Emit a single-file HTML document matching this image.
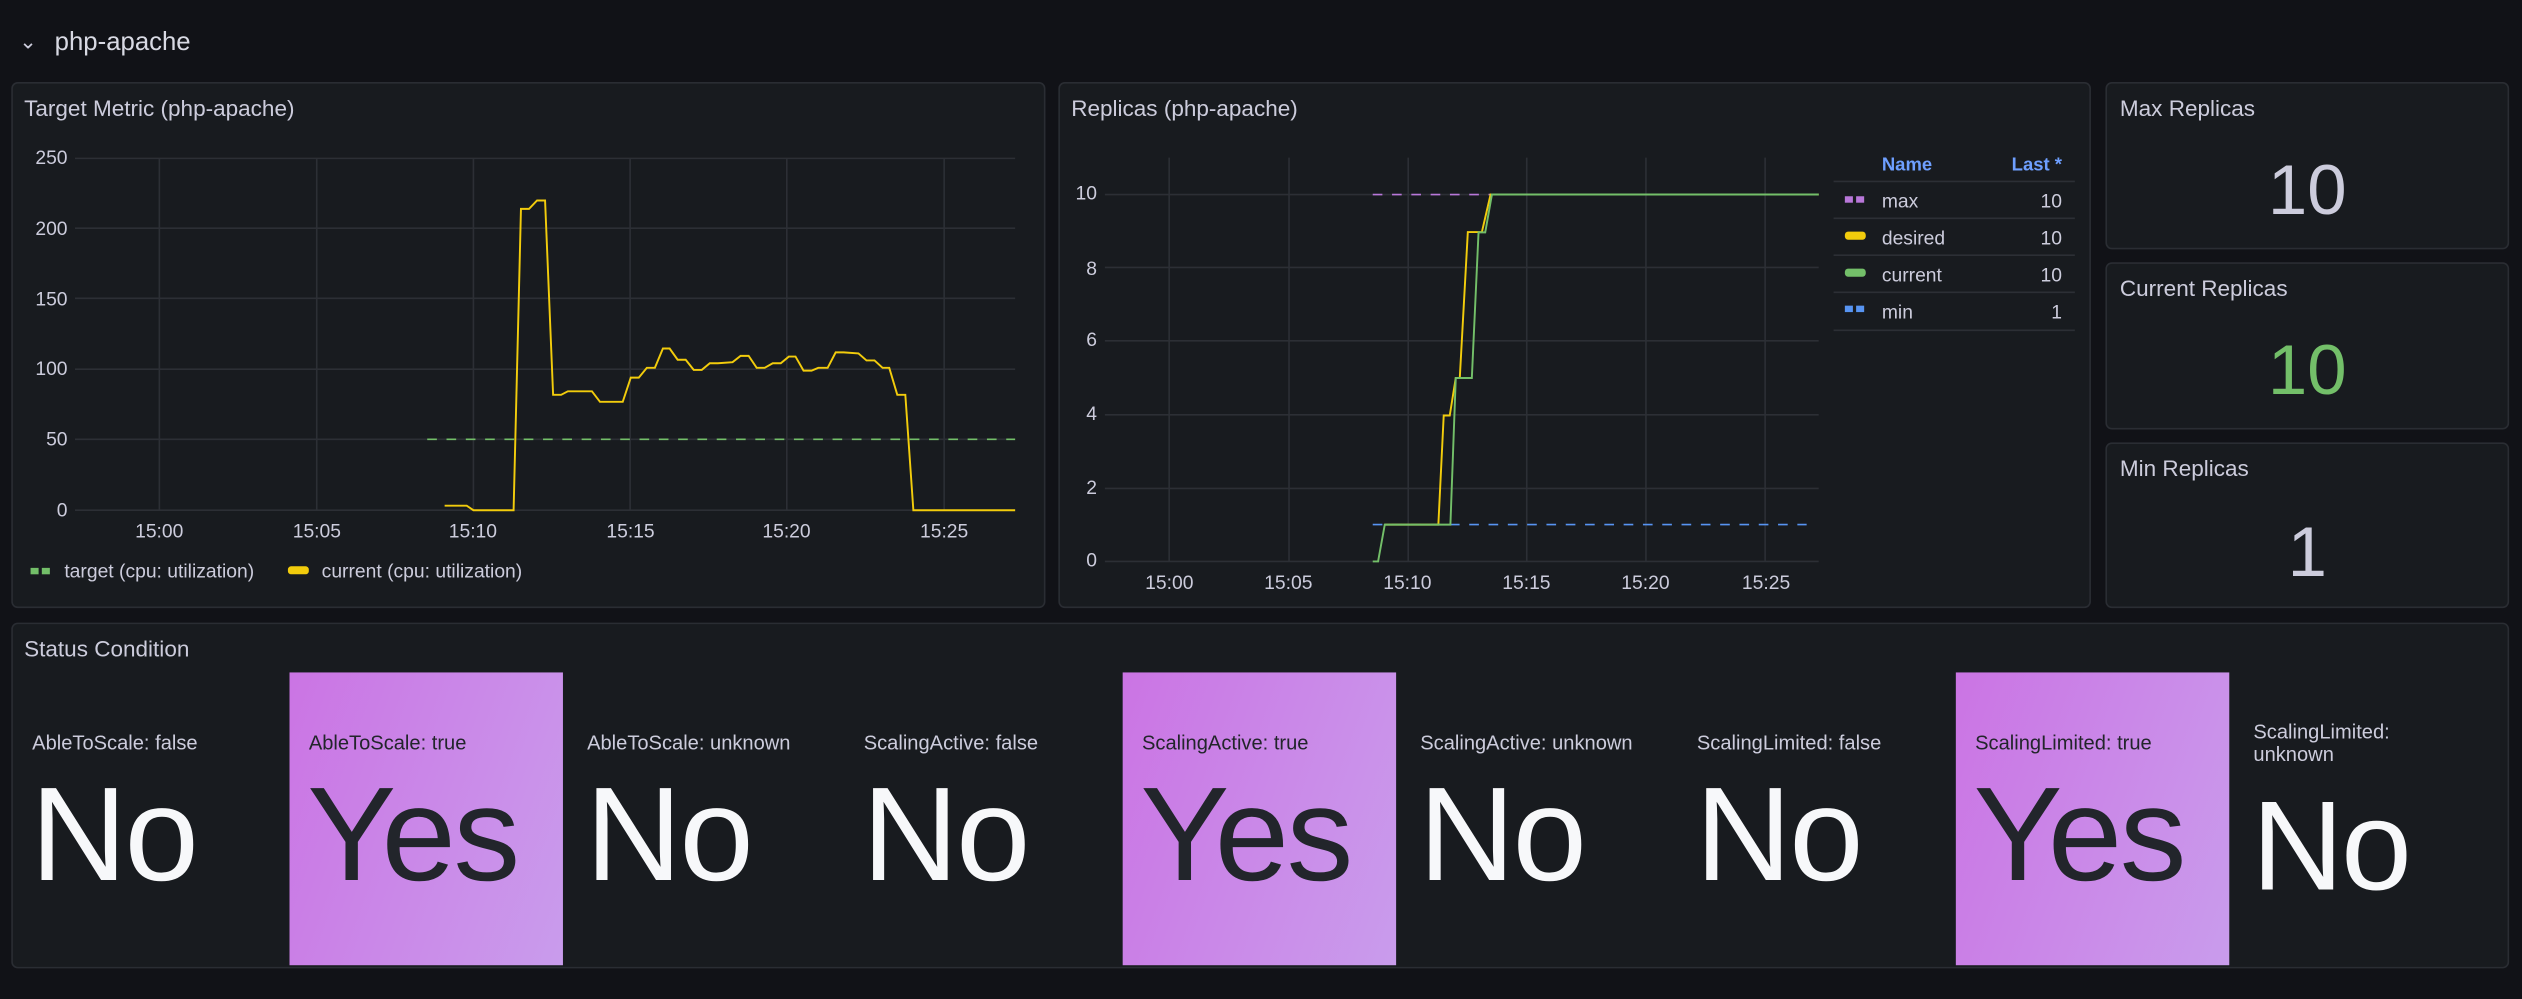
<!DOCTYPE html>
<html><head><meta charset="utf-8"><style>
html,body{margin:0;padding:0;background:#111217;overflow:hidden;width:2522px;height:999px}
#root{position:absolute;left:0;top:0;width:1568px;height:621px;transform:scale(1.60842,1.6087);transform-origin:0 0;font-family:"Liberation Sans",sans-serif;color:#ccccdc}
.a{position:absolute;white-space:nowrap}
.p{position:absolute;background:#181b1f;border:1px solid #2a2d33;border-radius:4px;box-sizing:border-box}
.t{position:absolute;font-size:14px;color:#ccccdc}
.big{position:absolute;font-size:44px;width:100%;text-align:center}
.cell{position:absolute;top:418px;width:170px;height:182px}
.lab{position:absolute;left:12px;top:37px;font-size:12.5px;color:#ccccdc}
.val{position:absolute;left:11px;top:53px;font-size:83px;color:#f7f8fa;letter-spacing:-1.5px}
.yes{background:linear-gradient(110deg,#cb74e4,#c99cec)}
.yes .lab{color:#22252b}.yes .val{color:#22252b}
</style></head><body><div id="root">
<div class="a" style="left:12px;top:18px;font-size:13px;color:#ccccdc">⌄</div>
<div class="a" style="left:34px;top:18px;font-size:16px;color:#d8d9e3">php-apache</div>

<div class="p" style="left:7px;top:51px;width:643px;height:327px"></div>
<div class="t" style="left:15px;top:59px">Target Metric (php-apache)</div>
<svg class="a" style="left:0;top:0" width="1568" height="621">
<g font-family="Liberation Sans" font-size="12" fill="#ccccdc">
<text x="42" y="102" text-anchor="end">250</text><text x="42" y="146" text-anchor="end">200</text><text x="42" y="190" text-anchor="end">150</text><text x="42" y="233" text-anchor="end">100</text><text x="42" y="277" text-anchor="end">50</text><text x="42" y="321" text-anchor="end">0</text>
<text x="99" y="334" text-anchor="middle">15:00</text><text x="197" y="334" text-anchor="middle">15:05</text><text x="294" y="334" text-anchor="middle">15:10</text><text x="392" y="334" text-anchor="middle">15:15</text><text x="489" y="334" text-anchor="middle">15:20</text><text x="587" y="334" text-anchor="middle">15:25</text>
<text x="40" y="359">target (cpu: utilization)</text><text x="200" y="359">current (cpu: utilization)</text>
</g>
<rect x="19" y="353" width="5" height="4" fill="#73bf69"/><rect x="26" y="353" width="5" height="4" fill="#73bf69"/>
<rect x="179" y="352" width="13" height="5" rx="2" fill="#f2cc0c"/>
<g transform="translate(0,43.5) scale(0.41632,0.21806)" fill="none">
<path vector-effect="non-scaling-stroke" stroke="#2c2f35" stroke-width="1" d="M112 252H1516M112 451H1516M112 651H1516M112 853H1516M112 1053H1516M112 1255H1516M238 252V1255M473 252V1255M707 252V1255M941 252V1255M1175 252V1255M1410 252V1255"/>
<path vector-effect="non-scaling-stroke" stroke="#73bf69" stroke-width="1" stroke-dasharray="6 6" d="M638 1053H1516"/>
<path vector-effect="non-scaling-stroke" stroke="#f2cc0c" stroke-width="1.2" d="M664 1242L697 1242L707 1255L767 1255L778 396L790 396L802 372L814 372L826 926L838 926L848 916L884 916L896 946L930 946L942 877L954 877L966 849L978 849L990 794L1000 794L1012 826L1024 826L1036 855L1048 855L1060 836L1072 836L1094 833L1106 815L1118 815L1130 849L1142 849L1154 836L1166 836L1178 817L1188 817L1200 857L1212 857L1222 849L1236 849L1248 805L1260 805L1282 808L1294 828L1306 828L1318 849L1328 849L1340 926L1352 926L1364 1255L1516 1255"/>
</g>
</svg>

<div class="p" style="left:658px;top:51px;width:642px;height:327px"></div>
<div class="t" style="left:666px;top:59px">Replicas (php-apache)</div>
<svg class="a" style="left:0;top:0" width="1568" height="621">
<g font-family="Liberation Sans" font-size="12" fill="#ccccdc">
<text x="682" y="124" text-anchor="end">10</text><text x="682" y="171" text-anchor="end">8</text><text x="682" y="215" text-anchor="end">6</text><text x="682" y="261" text-anchor="end">4</text><text x="682" y="307" text-anchor="end">2</text><text x="682" y="352" text-anchor="end">0</text>
<text x="727" y="366" text-anchor="middle">15:00</text><text x="801" y="366" text-anchor="middle">15:05</text><text x="875" y="366" text-anchor="middle">15:10</text><text x="949" y="366" text-anchor="middle">15:15</text><text x="1023" y="366" text-anchor="middle">15:20</text><text x="1098" y="366" text-anchor="middle">15:25</text>
<text x="1170" y="106" fill="#6e9fff" font-weight="bold" font-size="11.5">Name</text><text x="1282" y="106" fill="#6e9fff" text-anchor="end" font-weight="bold" font-size="11.5">Last *</text>
<text x="1170" y="129">max</text><text x="1282" y="129" text-anchor="end">10</text>
<text x="1170" y="152">desired</text><text x="1282" y="152" text-anchor="end">10</text>
<text x="1170" y="175">current</text><text x="1282" y="175" text-anchor="end">10</text>
<text x="1170" y="198">min</text><text x="1282" y="198" text-anchor="end">1</text>
</g>
<path stroke="#2c2f35" d="M1140 112.8H1290M1140 135.7H1290M1140 158.6H1290M1140 181.7H1290M1140 205.3H1290"/>
<rect x="1147" y="122" width="5" height="4" fill="#b877d9"/><rect x="1154" y="122" width="5" height="4" fill="#b877d9"/>
<rect x="1147" y="144" width="13" height="5" rx="2" fill="#f2cc0c"/>
<rect x="1147" y="167" width="13" height="5" rx="2" fill="#73bf69"/>
<rect x="1147" y="190" width="5" height="4" fill="#5794f2"/><rect x="1154" y="190" width="5" height="4" fill="#5794f2"/>
<g transform="translate(652.8,43.5) scale(0.41632,0.21806)" fill="none">
<path vector-effect="non-scaling-stroke" stroke="#2c2f35" stroke-width="1" d="M82 355H1148M82 563H1148M82 772H1148M82 983H1148M82 1193H1148M82 1401H1148M178 250V1401M357 250V1401M535 250V1401M712 250V1401M890 250V1401M1068 250V1401"/>
<path vector-effect="non-scaling-stroke" stroke="#b877d9" stroke-dasharray="6 6" d="M482 355H660"/>
<path vector-effect="non-scaling-stroke" stroke="#5794f2" stroke-dasharray="6 6" d="M482 1296H1130"/>
<path vector-effect="non-scaling-stroke" stroke="#f2cc0c" stroke-width="1.2" d="M500 1296L580 1296L588 985L597 985L606 878L612 878L624 462L645 462L658 355L1148 355"/>
<path vector-effect="non-scaling-stroke" stroke="#73bf69" stroke-width="1.2" d="M482 1401L490 1401L500 1296L598 1296L606 878L630 878L640 463L650 463L660 355L1148 355"/>
</g>
</svg>

<div class="p" style="left:1309px;top:51px;width:251px;height:104px"></div>
<div class="t" style="left:1318px;top:59px">Max Replicas</div>
<div class="big" style="left:1309px;width:251px;top:94px;color:#ccccdc">10</div>
<div class="p" style="left:1309px;top:163px;width:251px;height:104px"></div>
<div class="t" style="left:1318px;top:171px">Current Replicas</div>
<div class="big" style="left:1309px;width:251px;top:206px;color:#73bf69">10</div>
<div class="p" style="left:1309px;top:275px;width:251px;height:103px"></div>
<div class="t" style="left:1318px;top:283px">Min Replicas</div>
<div class="big" style="left:1309px;width:251px;top:319px;color:#ccccdc">1</div>

<div class="p" style="left:7px;top:387px;width:1553px;height:215px"></div>
<div class="t" style="left:15px;top:395px">Status Condition</div>
<div class="cell" style="left:8px"><div class="lab">AbleToScale: false</div><div class="val">No</div></div>
<div class="cell yes" style="left:180px"><div class="lab">AbleToScale: true</div><div class="val">Yes</div></div>
<div class="cell" style="left:353px"><div class="lab">AbleToScale: unknown</div><div class="val">No</div></div>
<div class="cell" style="left:525px"><div class="lab">ScalingActive: false</div><div class="val">No</div></div>
<div class="cell yes" style="left:698px"><div class="lab">ScalingActive: true</div><div class="val">Yes</div></div>
<div class="cell" style="left:871px"><div class="lab">ScalingActive: unknown</div><div class="val">No</div></div>
<div class="cell" style="left:1043px"><div class="lab">ScalingLimited: false</div><div class="val">No</div></div>
<div class="cell yes" style="left:1216px"><div class="lab">ScalingLimited: true</div><div class="val">Yes</div></div>
<div class="cell" style="left:1389px"><div class="lab" style="top:30px;line-height:14px">ScalingLimited:<br>unknown</div><div class="val" style="top:62px;font-size:79px">No</div></div>
</div></body></html>
